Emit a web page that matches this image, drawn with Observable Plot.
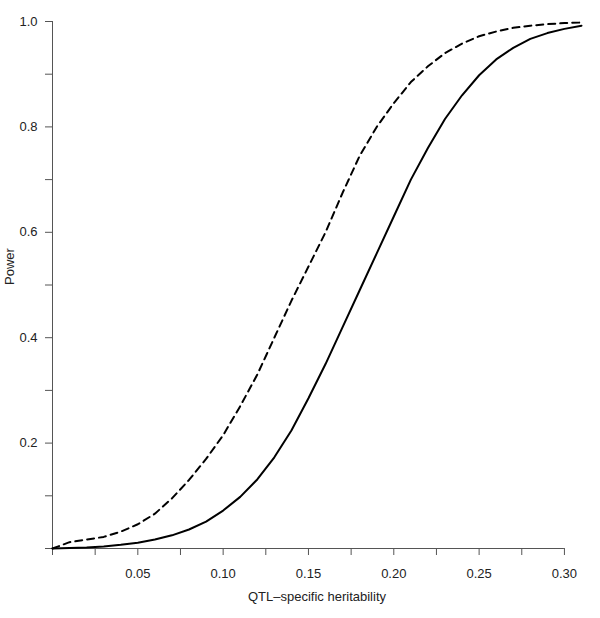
<!DOCTYPE html>
<html>
<head>
<meta charset="utf-8">
<script src="https://cdn.jsdelivr.net/npm/d3@7"></script>
<script src="https://cdn.jsdelivr.net/npm/@observablehq/plot@0.6"></script>
<style>
  html, body { margin: 0; padding: 0; background: white; }
</style>
</head>
<body>
<div id="chart"></div>
<script>
// QTL-specific heritability (x values)
const heritability = [0.00, 0.01, 0.02, 0.03, 0.04, 0.05, 0.06, 0.07, 0.08, 0.09,
  0.10, 0.11, 0.12, 0.13, 0.14, 0.15, 0.16, 0.17, 0.18, 0.19,
  0.20, 0.21, 0.22, 0.23, 0.24, 0.25, 0.26, 0.27, 0.28, 0.29, 0.30, 0.31];

// Solid curve power
const powerSolid = [0.000, 0.001, 0.002, 0.004, 0.007, 0.011, 0.017, 0.025, 0.036, 0.051,
  0.072, 0.098, 0.131, 0.173, 0.224, 0.285, 0.350, 0.420, 0.490, 0.560,
  0.630, 0.700, 0.760, 0.815, 0.860, 0.898, 0.928, 0.950, 0.967, 0.978, 0.986, 0.992];

// Dashed curve power
const powerDashed = [0.000, 0.012, 0.017, 0.022, 0.032, 0.046, 0.066, 0.095, 0.130, 0.170,
  0.215, 0.270, 0.330, 0.400, 0.470, 0.535, 0.600, 0.675, 0.745, 0.800,
  0.845, 0.885, 0.915, 0.940, 0.958, 0.972, 0.981, 0.988, 0.992, 0.995, 0.997, 0.998];

// Tick values and labels
const xTicks = [0, 0.025, 0.05, 0.075, 0.10, 0.125, 0.15, 0.175, 0.20, 0.225, 0.25, 0.275, 0.30];
const xTickLabels = ["", "", "0.05", "", "0.10", "", "0.15", "", "0.20", "", "0.25", "", "0.30"];
const yTicks = [0, 0.1, 0.2, 0.3, 0.4, 0.5, 0.6, 0.7, 0.8, 0.9, 1.0];
const yTickLabels = ["", "", "0.2", "", "0.4", "", "0.6", "", "0.8", "", "1.0"];

const xTitle = "QTL\u2013specific heritability";
const yTitle = "Power";

const solidRows = heritability.map((h, i) => ({h, p: powerSolid[i]}));
const dashedRows = heritability.map((h, i) => ({h, p: powerDashed[i]}));

const lookup = (ticks, labels) => d => {
  const i = ticks.findIndex(t => Math.abs(t - d) < 1e-9);
  return i >= 0 ? labels[i] : "";
};

const axisColor = "#555";

const chart = Plot.plot({
  width: 600,
  height: 618,
  marginLeft: 52,
  marginRight: 19,
  marginTop: 21,
  marginBottom: 70,
  x: {domain: [0, 0.31]},
  y: {domain: [0, 1]},
  style: {
    fontFamily: "'Liberation Sans', Arial, Helvetica, sans-serif",
    fontSize: "13px",
    color: "#222",
    background: "white"
  },
  marks: [
    Plot.ruleY([0], {x1: 0, x2: 0.30, stroke: axisColor, strokeWidth: 1}),
    Plot.ruleX([0], {y1: 0, y2: 1, stroke: axisColor, strokeWidth: 1}),
    Plot.axisX({
      ticks: xTicks,
      tickSize: 7,
      tickPadding: 13,
      tickFormat: lookup(xTicks, xTickLabels),
      stroke: axisColor,
      fontSize: 13,
      label: null
    }),
    Plot.axisY({
      ticks: yTicks,
      tickSize: 7,
      tickPadding: 8,
      tickFormat: lookup(yTicks, yTickLabels),
      stroke: axisColor,
      fontSize: 13,
      label: null
    }),
    Plot.line(dashedRows, {x: "h", y: "p", stroke: "black", strokeWidth: 2, strokeDasharray: "7,5", curve: "linear"}),
    Plot.line(solidRows, {x: "h", y: "p", stroke: "black", strokeWidth: 2, curve: "linear"}),
    Plot.text([xTitle], {frameAnchor: "bottom", lineAnchor: "middle", dy: 48, fontSize: 13, fill: "#222"}),
    Plot.text([yTitle], {frameAnchor: "left", lineAnchor: "middle", dx: -43, rotate: -90, fontSize: 13, fill: "#222"})
  ]
});

document.getElementById("chart").appendChild(chart);
</script>
</body>
</html>
